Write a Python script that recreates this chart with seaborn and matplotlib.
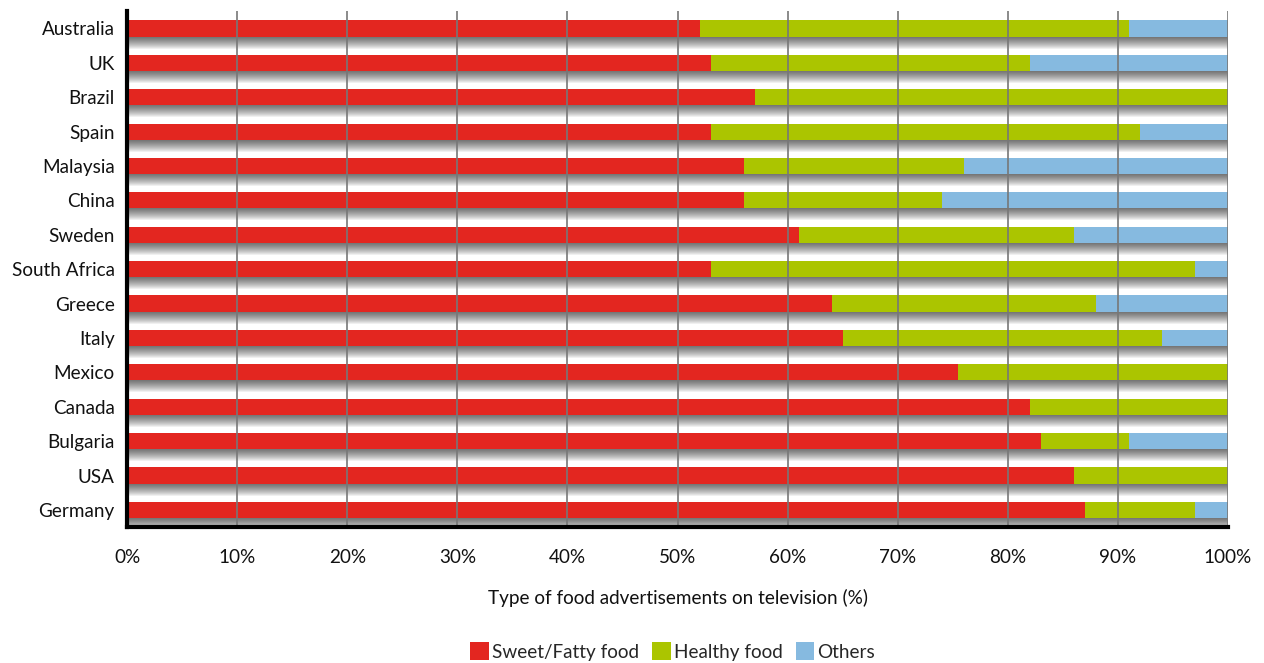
import numpy as np
import pandas as pd
import seaborn as sns
import matplotlib.pyplot as plt
from matplotlib.patches import Patch

countries = ["Australia", "UK", "Brazil", "Spain", "Malaysia", "China", "Sweden",
             "South Africa", "Greece", "Italy", "Mexico", "Canada", "Bulgaria", "USA", "Germany"]
sweet_fatty = [52, 53, 57, 53, 56, 56, 61, 53, 64, 65, 75.5, 82, 83, 86, 87]
healthy = [39, 29, 43, 39, 20, 18, 25, 44, 24, 29, 24.5, 18, 8, 14, 10]
others = [9, 18, 0, 8, 24, 26, 14, 3, 12, 6, 0, 0, 9, 0, 3]

series_names = ["Sweet/Fatty food", "Healthy food", "Others"]
colors = ["#E32620", "#ABC500", "#86BAE0"]

sns.set_theme(style="white")
plt.rcParams["font.family"] = ["Lato", "DejaVu Sans"]
fs = 13.6

df = pd.DataFrame({"country": countries, "sweet": sweet_fatty,
                   "healthy": healthy, "others": others})
df["c1"] = df["sweet"]
df["c2"] = df["sweet"] + df["healthy"]
df["c3"] = df["c2"] + df["others"]

fig = plt.figure(figsize=(12.64, 6.63), dpi=100)
ax = fig.add_axes([0.1005, 0.205, 0.871, 0.778])

bar_h = 0.47
px = 1 / 34.4  # one pixel in y data units

# soft drop shadow under every bar
ypos = np.arange(len(countries))
for d in range(1, 13):
    ax.barh(ypos + d * px, df["c3"] + 0.35, height=bar_h, left=0,
            color="#000000", alpha=0.06, linewidth=0, zorder=0.5)

# stacked bars, drawn back to front
for col, color in zip(["c3", "c2", "c1"], colors[::-1]):
    sns.barplot(data=df, x=col, y="country", color=color, width=bar_h,
                saturation=1, linewidth=0, ax=ax, zorder=2, orient="h")

ax.set_xlim(0, 100)
ax.set_ylim(len(countries) - 0.5, -0.5)
ax.set_xticks(np.arange(0, 101, 10))
ax.set_xticklabels([f"{v}%" for v in range(0, 101, 10)])
ax.xaxis.grid(True, color="#777777", linewidth=1.2, zorder=1)
ax.set_axisbelow(False)
for line in ax.get_xgridlines():
    line.set_zorder(1)

for s in ["top", "right"]:
    ax.spines[s].set_visible(False)
for s in ["left", "bottom"]:
    ax.spines[s].set_linewidth(3)
    ax.spines[s].set_color("black")
    ax.spines[s].set_zorder(3)

ax.tick_params(axis="x", length=0, pad=16, labelsize=fs, labelcolor="#111111")
ax.tick_params(axis="y", length=0, pad=9, labelsize=fs, labelcolor="#111111")
ax.set_ylabel("")
ax.set_xlabel("Type of food advertisements on television (%)", fontsize=fs,
              labelpad=16, color="#111111")

handles = [Patch(facecolor=c, edgecolor="none") for c in colors]
fig.legend(handles, series_names, loc="lower center", bbox_to_anchor=(0.532, -0.022),
           ncol=3, frameon=False, fontsize=fs, handlelength=1.0, handleheight=1.1,
           handletextpad=0.15, columnspacing=0.7)

fig.savefig("out.png", dpi=100)
